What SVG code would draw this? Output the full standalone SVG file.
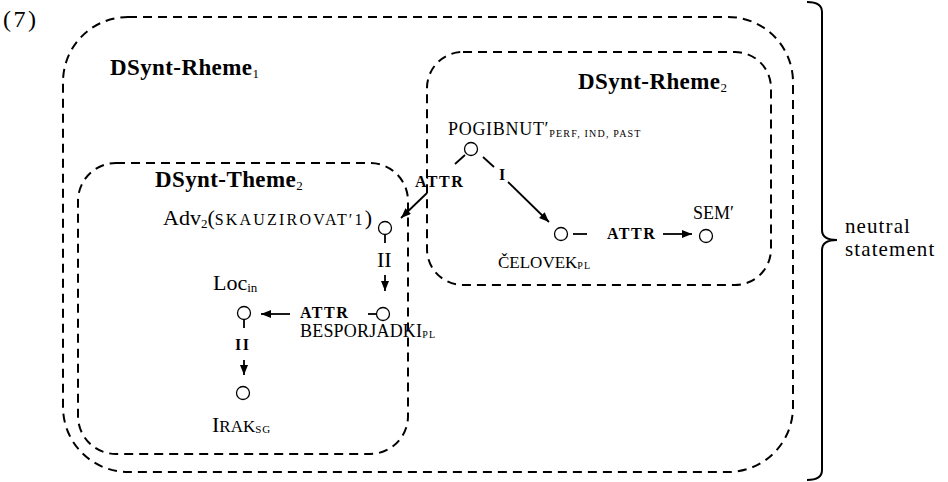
<svg xmlns="http://www.w3.org/2000/svg" width="948" height="482" viewBox="0 0 948 482">
<style>
text{font-family:"Liberation Serif","Times New Roman",serif;fill:#000}
.box{fill:none;stroke:#000;stroke-width:2;stroke-dasharray:9 6}
.nd{fill:#fff;stroke:#000;stroke-width:1.3}
.ln{stroke:#000;stroke-width:1.8;fill:none}
.ar{stroke:#000;stroke-width:1.8;fill:none;marker-end:url(#ah)}
.ttl{font-size:23px;font-weight:bold;letter-spacing:0.4px}
.sc{font-size:18px}
.el{font-size:16px;font-weight:bold;letter-spacing:1.5px}
.sub{font-size:10px;letter-spacing:1.2px}
.big{font-size:22px}
.side{font-size:21px;letter-spacing:1.1px}
</style>
<defs>
<marker id="ah" markerUnits="userSpaceOnUse" markerWidth="11" markerHeight="9" refX="10" refY="4" orient="auto">
<path d="M0,0 L10,4 L0,8 z" fill="#000"/>
</marker>
</defs>
<rect width="948" height="482" fill="#fff"/>
<text x="3" y="27" style="font-size:24px;letter-spacing:2.5px">(7)</text>

<g id="box-rheme1">
<rect class="box" x="63" y="17" width="730" height="455" rx="65" ry="65"/>
<text x="110" y="75" class="ttl">DSynt-Rheme<tspan font-size="13" dy="3" font-weight="normal">1</tspan></text>
</g>
<g id="box-rheme2">
<rect class="box" x="427" y="52" width="344" height="233" rx="36" ry="36"/>
<text x="578" y="89" class="ttl">DSynt-Rheme<tspan font-size="13" dy="3" font-weight="normal">2</tspan></text>
</g>
<g id="box-theme2">
<rect class="box" x="78" y="163" width="330" height="291" rx="38" ry="38"/>
<text x="155" y="187" class="ttl">DSynt-Theme<tspan font-size="13" dy="3" font-weight="normal">2</tspan></text>
</g>

<g id="connectors">
<line class="ln" x1="465" y1="155" x2="455" y2="164"/>
<line class="ar" x1="427" y1="193" x2="401" y2="218"/>
<text x="415" y="187" class="el">ATTR</text>
<line class="ln" x1="483" y1="157" x2="494" y2="167"/>
<line class="ar" x1="508" y1="182" x2="549" y2="222"/>
<text x="499" y="180" class="el">I</text>
<line class="ln" x1="573" y1="234" x2="587" y2="234"/>
<line class="ar" x1="663" y1="234" x2="692" y2="234"/>
<text x="607" y="239" class="el">ATTR</text>
<line class="ln" x1="385" y1="235" x2="385" y2="243"/>
<line class="ar" x1="385" y1="275" x2="385" y2="291"/>
<text x="377" y="267" class="big">II</text>
<line class="ln" x1="368" y1="314" x2="377" y2="314"/>
<line class="ar" x1="290" y1="314" x2="261" y2="314"/>
<text x="300" y="318" class="el">ATTR</text>
<line class="ln" x1="244" y1="320" x2="244" y2="328"/>
<line class="ar" x1="244" y1="360" x2="244" y2="375"/>
<text x="235" y="350" class="el">II</text>
</g>

<g id="node-pogibnut">
<circle class="nd" cx="471" cy="149" r="6.5"/>
<text x="448" y="135" class="sc" style="letter-spacing:0.7px">POGIBNUT′<tspan class="sub" font-size="9" letter-spacing="0.6" dy="2">PERF, IND, PAST</tspan></text>
</g>
<g id="node-celovek">
<circle class="nd" cx="561" cy="234" r="6.5"/>
<text x="498" y="268" class="sc" style="font-size:17px">ČELOVEK<tspan class="sub" dy="1">PL</tspan></text>
</g>
<g id="node-sem">
<circle class="nd" cx="706" cy="236" r="6.5"/>
<text x="693" y="219" class="sc">SEM′</text>
</g>
<g id="node-adv">
<circle class="nd" cx="385" cy="228" r="6.5"/>
<text x="163" y="225" class="big">Adv<tspan font-size="13" dy="3">2</tspan><tspan dy="-3">(</tspan><tspan font-size="16" letter-spacing="2.2">SKAUZIROVAT′1</tspan>)</text>
</g>
<g id="node-besporjadki">
<circle class="nd" cx="383" cy="314" r="6.5"/>
<text x="300" y="337" class="sc" style="letter-spacing:0.2px">BESPORJADKI<tspan class="sub" dy="1">PL</tspan></text>
</g>
<g id="node-loc">
<circle class="nd" cx="244" cy="313" r="6.5"/>
<text x="213" y="290" class="big">Loc<tspan font-size="13" dy="2">in</tspan></text>
</g>
<g id="node-irak">
<circle class="nd" cx="243" cy="393" r="6.5"/>
<text x="212" y="432" class="big">I<tspan font-size="17">RAK</tspan><tspan font-size="11" letter-spacing="1" dy="1">SG</tspan></text>
</g>

<g id="brace">
<path class="ln" style="stroke-width:2" d="M807,2 Q822,2 822,12 L822,230 Q822,240 837,240 Q822,240 822,250 L822,470 Q822,480 807,480"/>
<text x="845" y="233" class="side">neutral</text>
<text x="845" y="256" class="side">statement</text>
</g>
</svg>
